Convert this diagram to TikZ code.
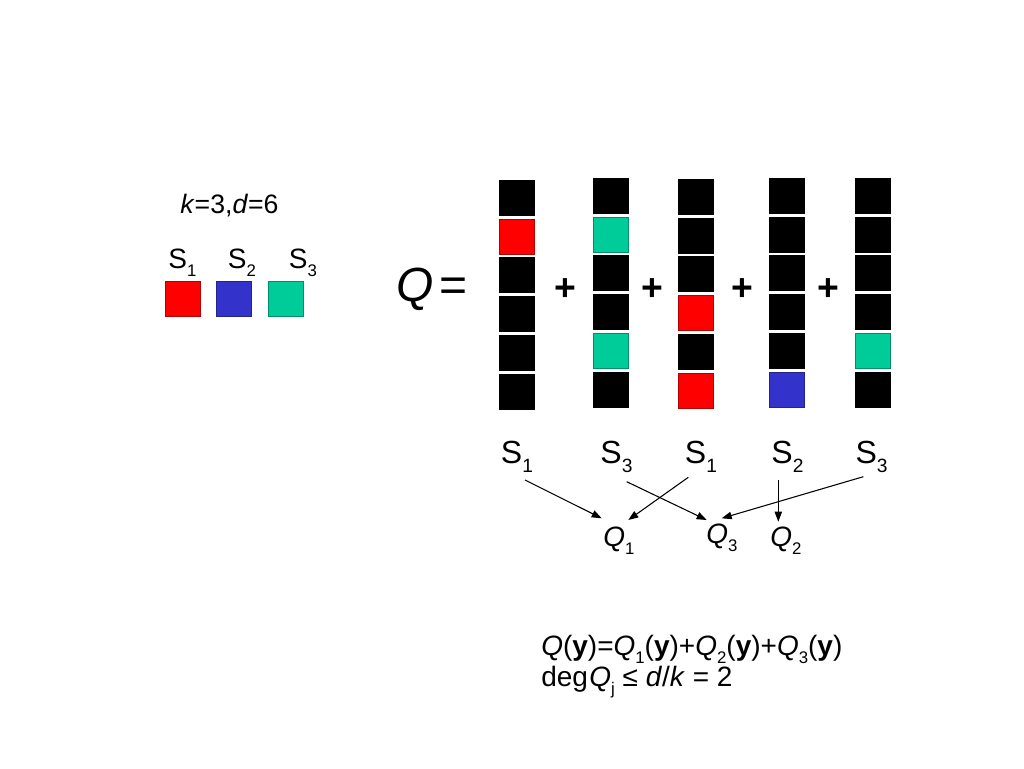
\documentclass[tikz,border=0pt]{standalone}
\usepackage{fontspec}
\setmainfont{Liberation Sans}
\usetikzlibrary{arrows.meta}
\definecolor{sred}{HTML}{FF0000}
\definecolor{sblue}{HTML}{3333CC}
\definecolor{steal}{HTML}{00CC99}
\newcommand\sbs[1]{\raisebox{-0.3em}{\scalebox{0.6}{#1}}}
\begin{document}
\begin{tikzpicture}[x=0.75pt,y=-0.75pt,
  cell/.style={minimum width=26.25pt,minimum height=26.25pt,inner sep=0pt,
    fill=#1,draw=#1!70!black,line width=0.6pt},
  lbl/.style={inner sep=0pt,anchor=base,font=\fontsize{24}{28}\selectfont},
  toplbl/.style={inner sep=0pt,anchor=base,font=\fontsize{21}{25}\selectfont},
  qlbl/.style={inner sep=0pt,anchor=base west,font=\fontsize{21}{25}\selectfont},
  plus/.style={inner sep=0pt,font=\fontsize{28}{32}\selectfont\bfseries},
  arr/.style={line width=0.8pt,-{Triangle[length=7.5pt,width=5.5pt]}}]
\useasboundingbox (0,0) rectangle (1024,768);
\fill[white] (0,0) rectangle (1024,768);

% parameters
\node[inner sep=0pt,anchor=base west,font=\fontsize{20}{24}\selectfont] (kd) at (180,213) {\textit{k}=3,\textit{d}=6};

% legend
\node[toplbl] (l1) at (182.5,268) {S\sbs{1}};
\node[toplbl] (l2) at (242,268) {S\sbs{2}};
\node[toplbl] (l3) at (303,268) {S\sbs{3}};
\node[cell=sred] (k1) at (183,299) {};
\node[cell=sblue] (k2) at (234,299) {};
\node[cell=steal] (k3) at (285.5,299) {};

% Q =
\node[inner sep=0pt,anchor=base west,font=\fontsize{36}{40}\selectfont] (qeq) at (396,301) {\textit{Q}\hspace{0.12em}=};

% columns
\foreach \x/\t/\cols [count=\i] in {
  516.5/180/{black,sred,black,black,black,black},
  610.5/178/{black,steal,black,black,steal,black},
  696/179/{black,black,black,sred,black,sred},
  787/178/{black,black,black,black,black,sblue},
  872.5/178/{black,black,black,black,steal,black}}{
  \foreach \c [count=\j] in \cols {
    \node[cell=\c] (c\i-\j) at (\x,{\t+17.5+38.9*(\j-1)}) {};
  }
}

% plus signs
\node[plus] (p1) at (565,290) {+};
\node[plus] (p2) at (652,290) {+};
\node[plus] (p3) at (742,290) {+};
\node[plus] (p4) at (828,290) {+};

% column labels
\node[lbl] (s1) at (517,463) {S\sbs{1}};
\node[lbl] (s2) at (616.5,463) {S\sbs{3}};
\node[lbl] (s3) at (701,463) {S\sbs{1}};
\node[lbl] (s4) at (787.5,463) {S\sbs{2}};
\node[lbl] (s5) at (871.5,463) {S\sbs{3}};

% Q labels
\node[qlbl] (q1) at (603,546) {\textit{Q}\sbs{1}};
\node[qlbl] (q3) at (706,543) {\textit{Q}\sbs{3}};
\node[qlbl] (q2) at (770,546) {\textit{Q}\sbs{2}};

% arrow ends
\coordinate (a1s) at (525,480);   \coordinate (a1e) at (601.7,518.3);
\coordinate (a2s) at (626.7,481.7); \coordinate (a2e) at (706.7,520);
\coordinate (a3s) at (688.3,477.3); \coordinate (a3e) at (628.3,520);
\coordinate (a4s) at (778.3,480); \coordinate (a4e) at (778.3,521.7);
\coordinate (a5s) at (863.3,476.7); \coordinate (a5e) at (721.7,518.3);
\draw[arr] (a1s) -- (a1e);
\draw[arr] (a2s) -- (a2e);
\draw[arr] (a3s) -- (a3e);
\draw[arr] (a4s) -- (a4e);
\draw[arr] (a5s) -- (a5e);

% formula
\node[inner sep=0pt,anchor=base west,font=\fontsize{21}{25}\selectfont] (f1) at (541,655)
  {\textit{Q}(\textbf{y})=\textit{Q}\sbs{1}(\textbf{y})+\textit{Q}\sbs{2}(\textbf{y})+\textit{Q}\sbs{3}(\textbf{y})};
\node[inner sep=0pt,anchor=base west,font=\fontsize{21}{25}\selectfont] (f2) at (541,686)
  {deg\hspace{0.05em}\textit{Q}\sbs{j} ≤ \textit{d}/\textit{k} = 2};
\end{tikzpicture}
\end{document}
